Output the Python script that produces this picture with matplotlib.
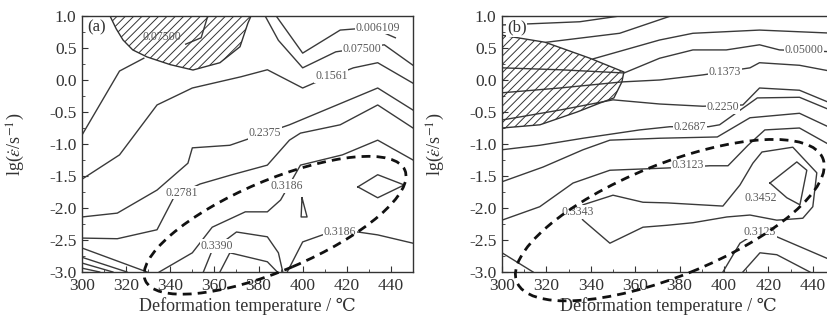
import matplotlib
matplotlib.use('Agg')
import matplotlib.pyplot as plt
from matplotlib.patches import Polygon, Ellipse
from matplotlib.transforms import ScaledTranslation
from matplotlib.ticker import MultipleLocator

plt.rcParams['font.family'] = ['Liberation Serif', 'DejaVu Serif']
plt.rcParams['mathtext.fontset'] = 'stix'
plt.rcParams['hatch.linewidth'] = 0.7

## panel (a): iso-efficiency lines, each one (temperature, lg strain rate)
a_lines = [
    ([357, 354, 347], [1.0, 0.66, 0.56]),
    ([300, 317, 328], [-0.86, 0.14, 0.34]),
    ([388, 400, 417, 428, 436, 442], [1.0, 0.42, 0.78, 0.81, 0.75, 0.66]),
    ([383, 389, 400, 415, 437, 450], [1.0, 0.62, 0.19, 0.44, 0.55, 0.23]),
    ([300, 317, 334, 350, 372, 384, 400, 405, 423, 434, 450],
     [-1.55, -1.17, -0.39, -0.125, 0.05, 0.16, -0.125, -0.05, 0.19, 0.27, -0.05]),
    ([300, 316, 334, 348, 350, 367, 394, 434, 450],
     [-2.14, -2.08, -1.72, -1.30, -1.06, -1.02, -0.70, -0.125, -0.47]),
    ([300, 316, 334, 342, 353.5, 368, 384, 394, 399, 417, 434, 450],
     [-2.47, -2.48, -2.34, -1.81, -1.625, -1.48, -1.33, -0.94, -0.83, -0.70, -0.39, -0.75]),
    ([335, 350, 359, 374, 384, 390, 399, 418, 434, 450],
     [-3.0, -2.70, -2.30, -2.06, -2.06, -1.875, -1.33, -1.17, -0.94, -1.25]),
    ([355, 359, 370, 384, 389, 391], [-3.0, -2.66, -2.375, -2.45, -2.70, -3.0]),
    ([362.5, 367, 384, 388.5], [-3.0, -2.70, -2.84, -3.0]),
    ([393, 400, 409, 425, 434, 450], [-3.0, -2.53, -2.42, -2.375, -2.42, -2.55]),
    ([399.7, 402, 399.3, 399.7], [-1.84, -2.14, -2.14, -1.84]),
    ([425, 434, 446, 434, 425], [-1.67, -1.48, -1.64, -1.84, -1.67]),
    ([300, 329.5], [-2.625, -3.0]),
    ([300, 320.4], [-2.77, -3.0]),
    ([300, 314], [-2.86, -3.0]),
    ([300, 308], [-2.94, -3.0]),
]
a_labels = ['0.006109', '0.07500', '0.1561', '0.2375', '0.2781', '0.3186', '0.3390', '0.3186']
a_label_T = [434, 427, 413, 383, 345, 393, 361, 417]
a_label_lg = [0.82, 0.48, 0.06, -0.83, -1.76, -1.66, -2.59, -2.375]
a_unstable_T = [312.7, 315.5, 318.6, 323, 329.5, 340, 350.3, 362.5, 371.6, 375.2, 376.6]
a_unstable_lg = [1.0, 0.80, 0.625, 0.47, 0.36, 0.24, 0.156, 0.27, 0.52, 0.89, 1.0]
a_unstable_label = ('0.07500', 336, 0.67)
a_domain = (387.5, -2.27, 2.82, 0.90, 23)   # centre T, centre lg, width in, height in, angle

## panel (b)
b_lines = [
    ([300, 335, 353], [0.86, 0.91, 1.0]),
    ([320, 353, 376], [0.59, 0.73, 1.0]),
    ([341, 371, 386, 416, 450], [0.33, 0.625, 0.73, 0.78, 0.73]),
    ([300, 326, 355, 371, 386, 401, 416, 425, 450],
     [0.19, 0.16, 0.11, 0.34, 0.47, 0.47, 0.55, 0.47, 0.44]),
    ([300, 326, 354, 371, 390.5, 411.7, 416, 434, 450],
     [-0.20, -0.125, -0.03, 0.0, 0.08, 0.19, 0.27, 0.23, 0.125]),
    ([300, 326, 350, 371, 390.5, 408.5, 416, 434, 450],
     [-0.625, -0.47, -0.31, -0.375, -0.41, -0.39, -0.125, -0.16, -0.39]),
    ([300, 317, 336.5, 362, 375.6, 393, 398, 415, 434, 450],
     [-1.09, -1.02, -0.91, -0.78, -0.73, -0.73, -0.70, -0.28, -0.27, -0.5]),
    ([300, 318.5, 336.5, 348.6, 371, 397, 411.7, 434, 450],
     [-1.59, -1.36, -1.09, -0.94, -0.91, -0.89, -0.59, -0.52, -0.78]),
    ([300, 317, 332, 348.6, 374.3, 393.7, 401.8, 410.8, 418.4, 434, 450],
     [-2.19, -1.98, -1.61, -1.41, -1.375, -1.34, -1.34, -1.02, -0.78, -0.75, -1.06]),
    ([334.2, 336.5, 350, 363.5, 374.3, 399.5, 407.2, 413, 417.1, 431, 441.8, 440,
      435.5, 423.8, 411.7, 401.3, 386, 374.3, 363.5, 348.6, 336.5, 334.2],
     [-2.06, -1.95, -1.80, -1.91, -1.92, -1.97, -1.64, -1.30, -1.125, -1.05, -1.45, -1.98,
      -2.16, -2.19, -2.11, -2.14, -2.23, -2.27, -2.30, -2.55, -2.19, -2.06]),
    ([420.7, 432.8, 437.3, 434.2, 428.3, 420.7], [-1.61, -1.28, -1.41, -1.95, -1.84, -1.61]),
    ([399.5, 407.2, 416, 423.8, 450], [-3.0, -2.55, -2.36, -2.45, -2.84]),
    ([408.5, 416.2, 423.8, 438.7], [-3.0, -2.70, -2.73, -3.0]),
    ([300, 314], [-2.70, -3.0]),
]
b_labels = ['0.05000', '0.1373', '0.2250', '0.2687', '0.3123', '0.3343', '0.3452', '0.3123']
b_label_T = [436, 400.5, 399.5, 384.6, 383.7, 334.2, 416.6, 416]
b_label_lg = [0.47, 0.12, -0.42, -0.73, -1.33, -2.06, -1.84, -2.38]
b_unstable_T = [300, 319.4, 339.6, 354.9, 354, 350.4, 344.1, 333.8, 317.1, 300]
b_unstable_lg = [0.70, 0.59, 0.34, 0.125, -0.03, -0.28, -0.36, -0.50, -0.70, -0.75]
b_domain = (375.6, -2.19, 3.30, 1.12, 22)

line_col = '#3a3a3a'
label_col = '#5a5a5a'

fig = plt.figure(figsize=(8.27, 3.25), dpi=100)
ax_a = fig.add_axes([82 / 827, 53 / 325, 331 / 827, 256 / 325])
ax_b = fig.add_axes([502 / 827, 53 / 325, 333 / 827, 256 / 325])


def draw_panel(ax, lines, labels, lab_T, lab_lg, hatch_T, hatch_lg, domain, letter):
    for T, lg in lines:
        ax.plot(T, lg, color=line_col, lw=1.0)
    for s, t, y in zip(labels, lab_T, lab_lg):
        ax.text(t, y, s, fontsize=8.5, color=label_col, ha='center', va='center',
                bbox=dict(facecolor='white', edgecolor='none', pad=0.6), zorder=4)
    ax.add_patch(Polygon(list(zip(hatch_T, hatch_lg)), closed=True, facecolor='none',
                         edgecolor='#333333', hatch='////', lw=1.0, zorder=3))
    cx, cy, w, h, ang = domain
    trans = fig.dpi_scale_trans + ScaledTranslation(cx, cy, ax.transData)
    ax.add_patch(Ellipse((0, 0), w, h, angle=ang, transform=trans, fill=False,
                         edgecolor='#111111', lw=2.0, linestyle=(0, (3.2, 2.2)),
                         clip_on=False, zorder=5))
    ax.set_xlim(300, 450)
    ax.set_ylim(-3, 1)
    ax.xaxis.set_minor_locator(MultipleLocator(10))
    ax.yaxis.set_major_locator(MultipleLocator(0.5))
    ax.yaxis.set_minor_locator(MultipleLocator(0.25))
    ax.set_xticks([300, 320, 340, 360, 380, 400, 420, 440])
    ax.tick_params(which='both', direction='in', top=False, right=False,
                   labelsize=12.5, colors='#333333', pad=4)
    ax.tick_params(which='major', length=4)
    ax.tick_params(which='minor', length=2)
    ax.set_yticklabels(['%.1f' % v for v in ax.get_yticks()])
    for sp in ax.spines.values():
        sp.set_color('#333333')
        sp.set_linewidth(1.0)
    ax.set_xlabel('Deformation temperature / \u2103', fontsize=13, color='#333333')
    ax.xaxis.set_label_coords(0.5, -0.10)
    ax.set_ylabel(r'lg($\dot{\varepsilon}$/s$^{-1}$)', fontsize=13, color='#333333')
    ax.yaxis.set_label_coords(-0.165, 0.5)
    ax.text(0.015, 0.985, letter, transform=ax.transAxes, fontsize=12, ha='left',
            va='top', color='#333333', zorder=6,
            bbox=dict(facecolor='white', edgecolor='none', pad=0.5))


draw_panel(ax_a, a_lines, a_labels, a_label_T, a_label_lg, a_unstable_T,
           a_unstable_lg, a_domain, '(a)')
s, t, y = a_unstable_label
ax_a.text(t, y, s, fontsize=8.5, color=label_col, ha='center', va='center', zorder=4)

draw_panel(ax_b, b_lines, b_labels, b_label_T, b_label_lg, b_unstable_T,
           b_unstable_lg, b_domain, '(b)')

fig.savefig('out.png', dpi=100)
